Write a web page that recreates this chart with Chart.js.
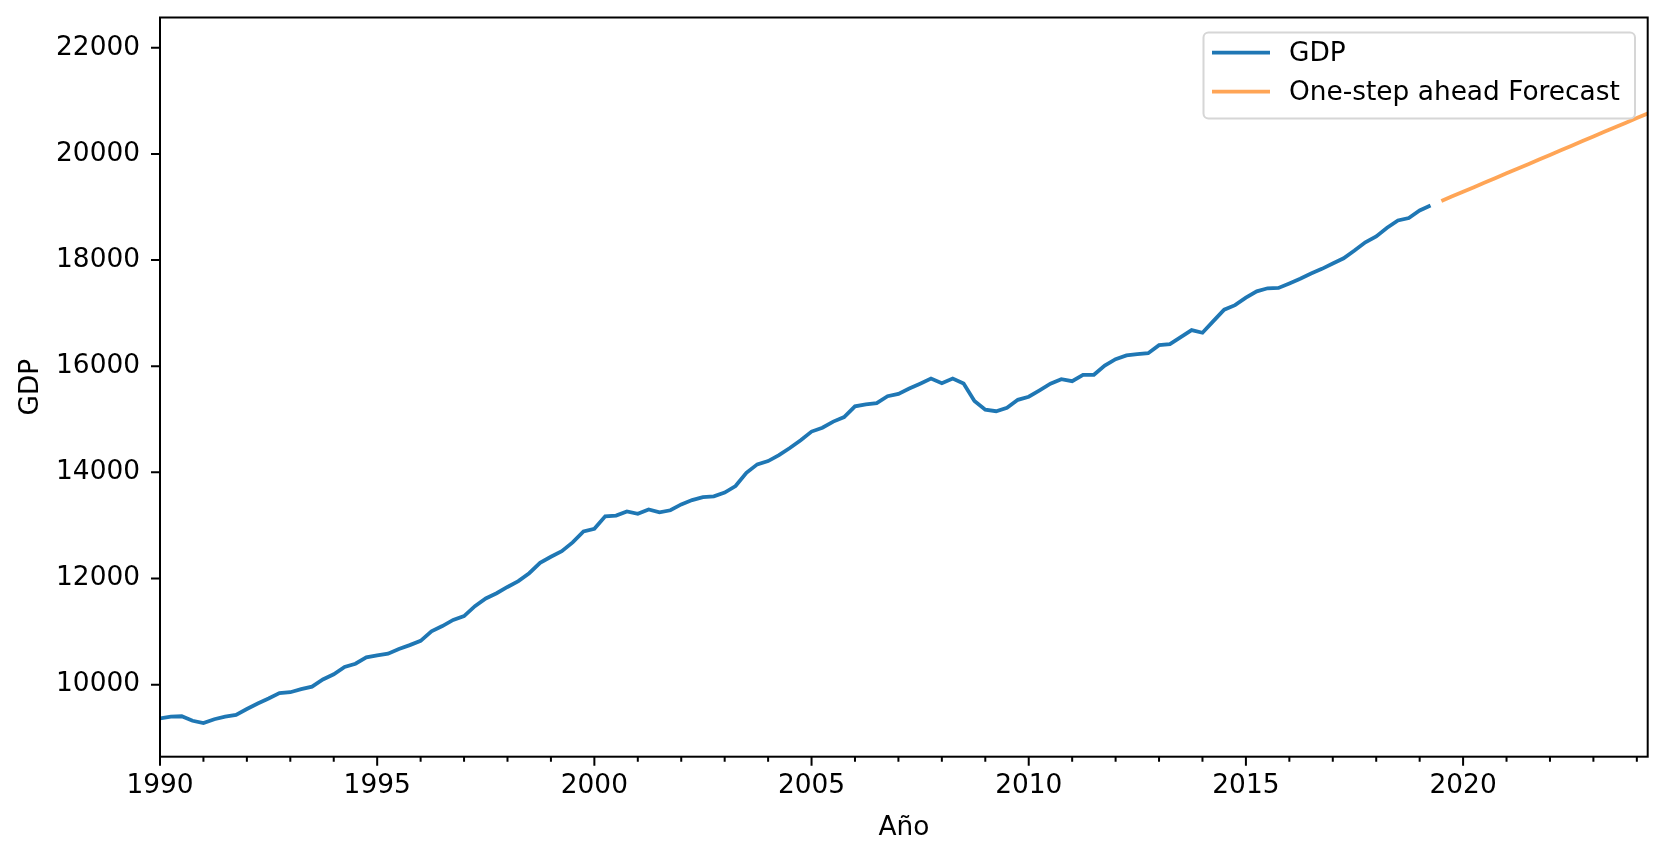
<!DOCTYPE html>
<html>
<head>
<meta charset="utf-8">
<script src="https://cdn.jsdelivr.net/npm/chart.js@4/dist/chart.umd.min.js"></script>
<style>
  html, body { margin: 0; padding: 0; background: #fff; }
  #gdp-chart { display: block; }
</style>
</head>
<body>
<canvas id="gdp-chart" width="1666" height="858"></canvas>
<script>
// quarterly series, first quarter of 1990 onwards
const START_YEAR = 1990;

const gdpValues = [
    9365, 9398, 9404, 9319, 9275, 9348, 9395, 9428, 9540, 9644, 9739, 9841,
    9857, 9915, 9962, 10097, 10195, 10334, 10394, 10513, 10550, 10582, 10672, 10744,
    10825, 11005, 11104, 11219, 11292, 11479, 11623, 11722, 11840, 11950, 12100, 12295,
    12410, 12514, 12679, 12888, 12935, 13171, 13184, 13262, 13219, 13301, 13248, 13285,
    13395, 13477, 13532, 13549, 13619, 13741, 13990, 14150, 14212, 14323, 14458, 14606,
    14768, 14840, 14956, 15041, 15244, 15282, 15305, 15434, 15479, 15578, 15671, 15767,
    15680, 15768, 15675, 15345, 15180, 15152, 15215, 15366, 15425, 15545, 15670, 15755,
    15717, 15838, 15838, 16013, 16132, 16202, 16226, 16245, 16396, 16415, 16547, 16679,
    16630, 16849, 17064, 17150, 17290, 17410, 17468, 17475, 17560, 17647, 17745, 17834,
    17934, 18033, 18180, 18335, 18446, 18608, 18745, 18792, 18933, 19027
];

// forecast starts the quarter after the last observation
const forecastValues = [
    19113, 19200, 19287, 19373, 19460, 19547, 19634, 19720, 19807, 19894,
    19981, 20068, 20154, 20241, 20328, 20415, 20501, 20588, 20675, 20762
];

const yTicks = [10000, 12000, 14000, 16000, 18000, 20000, 22000];
const xMajorTicks = [1990, 1995, 2000, 2005, 2010, 2015, 2020];

const FONT = "'DejaVu Sans', sans-serif";
const FONT_SIZE = 26.4;

const toPoints = (values, offset) => values.map((v, i) => ({x: START_YEAR + (offset + i) / 4, y: v}));

const datasets = [
    {
        label: 'GDP',
        data: toPoints(gdpValues, 0),
        borderColor: '#1f77b4',
        borderWidth: 3.8,
        pointRadius: 0,
        tension: 0
    },
    {
        label: 'One-step ahead Forecast',
        data: toPoints(forecastValues, gdpValues.length),
        borderColor: 'rgba(255, 127, 14, 0.7)',
        borderWidth: 3.8,
        pointRadius: 0,
        tension: 0
    }
];

// matplotlib style frame: spines, outward ticks, minor year ticks, boxed legend
const axesFrame = {
    id: 'axesFrame',
    afterDraw(chart) {
        const {ctx, chartArea: a, scales: {x, y}} = chart;
        ctx.save();
        ctx.strokeStyle = '#000';
        ctx.lineWidth = 2;
        ctx.strokeRect(a.left, a.top, a.right - a.left, a.bottom - a.top);

        ctx.beginPath();
        yTicks.forEach((v) => {
            const py = y.getPixelForValue(v);
            ctx.moveTo(a.left, py);
            ctx.lineTo(a.left - 9, py);
        });
        for (let yr = START_YEAR; yr <= x.max; yr++) {
            const px = x.getPixelForValue(yr);
            const len = xMajorTicks.includes(yr) ? 9 : 5;
            ctx.moveTo(px, a.bottom);
            ctx.lineTo(px, a.bottom + len);
        }
        ctx.stroke();

        // legend
        const bx = 1203.5, by = 32.5, bw = 431.5, bh = 86, r = 5;
        ctx.beginPath();
        ctx.roundRect(bx, by, bw, bh, r);
        ctx.fillStyle = 'rgba(255,255,255,0.8)';
        ctx.fill();
        ctx.strokeStyle = '#d6d6d6';
        ctx.lineWidth = 2;
        ctx.stroke();

        ctx.font = `${FONT_SIZE}px ${FONT}`;
        ctx.textBaseline = 'middle';
        ctx.textAlign = 'left';
        chart.data.datasets.forEach((ds, i) => {
            const ly = 52.7 + i * 39;
            ctx.beginPath();
            ctx.strokeStyle = ds.borderColor;
            ctx.lineWidth = 3.8;
            ctx.moveTo(1212, ly);
            ctx.lineTo(1270, ly);
            ctx.stroke();
            ctx.fillStyle = '#000';
            ctx.fillText(ds.label, 1289, ly + 1.5);
        });
        ctx.restore();
    }
};

new Chart(document.getElementById('gdp-chart'), {
    type: 'line',
    data: {datasets},
    plugins: [axesFrame],
    options: {
        responsive: false,
        animation: false,
        devicePixelRatio: 1,
        layout: {padding: {top: 17.5, right: 18.3, left: 0, bottom: 0}},
        plugins: {legend: {display: false}, tooltip: {enabled: false}},
        scales: {
            x: {
                type: 'linear',
                min: 1990,
                max: 2024.25,
                grid: {display: false, drawTicks: false},
                border: {display: false},
                afterBuildTicks: (scale) => { scale.ticks = xMajorTicks.map((v) => ({value: v})); },
                ticks: {
                    autoSkip: false,
                    maxRotation: 0,
                    padding: 14,
                    color: '#000',
                    font: {family: FONT, size: FONT_SIZE},
                    callback: (v) => String(v)
                },
                title: {
                    display: true,
                    text: 'Año',
                    color: '#000',
                    font: {family: FONT, size: FONT_SIZE},
                    padding: {top: 0, bottom: 14.5}
                },
                afterFit: (scale) => {
                    scale.height = 101.3;
                    scale.paddingLeft = 0;
                    scale.paddingRight = 0;
                }
            },
            y: {
                min: 8642,
                max: 22570,
                grid: {display: false, drawTicks: false},
                border: {display: false},
                afterBuildTicks: (scale) => { scale.ticks = yTicks.map((v) => ({value: v})); },
                ticks: {
                    autoSkip: false,
                    padding: 20,
                    color: '#000',
                    font: {family: FONT, size: FONT_SIZE},
                    callback: (v) => String(v)
                },
                title: {
                    display: true,
                    text: 'GDP',
                    color: '#000',
                    font: {family: FONT, size: FONT_SIZE},
                    padding: {top: 15.5, bottom: 0}
                },
                afterFit: (scale) => {
                    scale.width = 160;
                    scale.paddingTop = 0;
                    scale.paddingBottom = 0;
                }
            }
        }
    }
});
</script>
</body>
</html>
